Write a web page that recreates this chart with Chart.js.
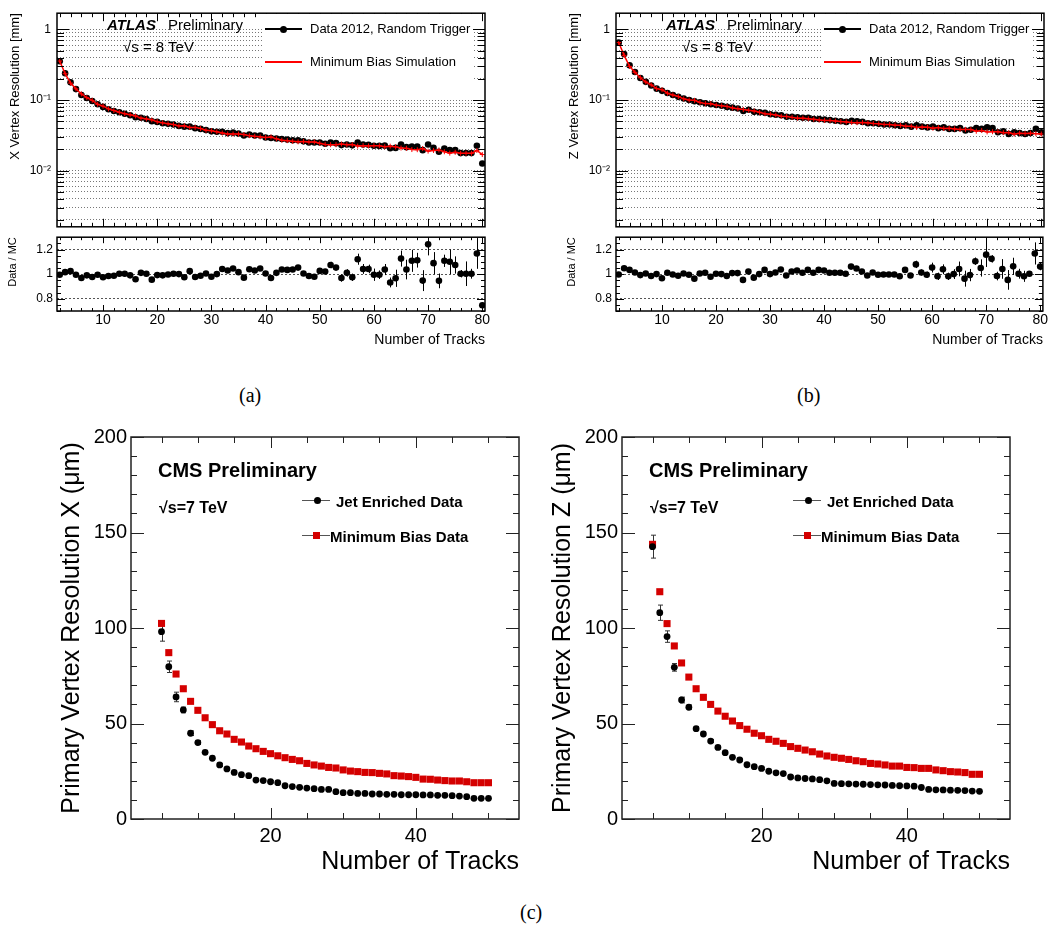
<!DOCTYPE html>
<html>
<head>
<meta charset="utf-8">
<script src="https://cdn.jsdelivr.net/npm/chart.js@4.4.0/dist/chart.umd.min.js"></script>
<style>
  html, body { margin: 0; padding: 0; background: #fff; overflow: hidden; }
  #page { position: relative; width: 1049px; height: 927px; font-family: "Liberation Sans", Arial, sans-serif; color: #000; }
  canvas { position: absolute; }
  .txt { position: absolute; white-space: nowrap; line-height: 1; }
  .box { position: absolute; background: #fff; }
  .ln { position: absolute; }
  .dot { position: absolute; border-radius: 50%; background: #000; }
  .sq { position: absolute; background: #d40000; }
  .cap { position: absolute; font-family: "Liberation Serif", "Times New Roman", serif; font-size: 20px; line-height: 1; }
</style>
</head>
<body>
<div id="page">
  <canvas id="xMain" width="500" height="240" style="left:0;top:0"></canvas>
  <canvas id="xRatio" width="500" height="130" style="left:0;top:226px"></canvas>
  <canvas id="zMain" width="490" height="240" style="left:559px;top:0"></canvas>
  <canvas id="zRatio" width="490" height="130" style="left:559px;top:226px"></canvas>
  <canvas id="cmsX" width="490" height="460" style="left:40px;top:420px"></canvas>
  <canvas id="cmsZ" width="490" height="460" style="left:531px;top:420px"></canvas>

  <!-- ATLAS (a) texts -->
  <div class="txt" style="left:107px;top:17px;font-size:15px;font-weight:bold;font-style:italic">ATLAS</div>
  <div class="txt" style="left:168px;top:17px;font-size:15px">Preliminary</div>
  <div class="txt" style="left:123px;top:39px;font-size:15px">√s = 8 TeV</div>
  <div class="box" style="left:262px;top:14px;width:210px;height:78px"></div>
  <div class="ln" style="left:265px;top:28px;width:37px;height:2px;background:#000"></div>
  <div class="dot" style="left:279.5px;top:25.5px;width:7px;height:7px"></div>
  <div class="txt" style="left:310px;top:22px;font-size:13px">Data 2012, Random Trigger</div>
  <div class="ln" style="left:265px;top:61px;width:37px;height:2px;background:#ff0000"></div>
  <div class="txt" style="left:310px;top:55px;font-size:13px">Minimum Bias Simulation</div>

  <!-- ATLAS (b) texts -->
  <div class="txt" style="left:666px;top:17px;font-size:15px;font-weight:bold;font-style:italic">ATLAS</div>
  <div class="txt" style="left:727px;top:17px;font-size:15px">Preliminary</div>
  <div class="txt" style="left:682px;top:39px;font-size:15px">√s = 8 TeV</div>
  <div class="box" style="left:821px;top:14px;width:210px;height:78px"></div>
  <div class="ln" style="left:824px;top:28px;width:37px;height:2px;background:#000"></div>
  <div class="dot" style="left:838.5px;top:25.5px;width:7px;height:7px"></div>
  <div class="txt" style="left:869px;top:22px;font-size:13px">Data 2012, Random Trigger</div>
  <div class="ln" style="left:824px;top:61px;width:37px;height:2px;background:#ff0000"></div>
  <div class="txt" style="left:869px;top:55px;font-size:13px">Minimum Bias Simulation</div>

  <!-- CMS X texts -->
  <div class="txt" style="left:158px;top:460px;font-size:20px;font-weight:bold">CMS Preliminary</div>
  <div class="txt" style="left:159px;top:500px;font-size:16px;font-weight:bold">√s=7 TeV</div>
  <div class="ln" style="left:302px;top:500px;width:28px;height:1px;background:#555"></div>
  <div class="dot" style="left:313.5px;top:497px;width:7px;height:7px"></div>
  <div class="txt" style="left:336px;top:494px;font-size:15px;font-weight:bold">Jet Enriched Data</div>
  <div class="ln" style="left:302px;top:535px;width:28px;height:1px;background:#555"></div>
  <div class="sq" style="left:313px;top:532px;width:7px;height:7px"></div>
  <div class="txt" style="left:330px;top:529px;font-size:15px;font-weight:bold">Minimum Bias Data</div>

  <!-- CMS Z texts -->
  <div class="txt" style="left:649px;top:460px;font-size:20px;font-weight:bold">CMS Preliminary</div>
  <div class="txt" style="left:650px;top:500px;font-size:16px;font-weight:bold">√s=7 TeV</div>
  <div class="ln" style="left:793px;top:500px;width:28px;height:1px;background:#555"></div>
  <div class="dot" style="left:804.5px;top:497px;width:7px;height:7px"></div>
  <div class="txt" style="left:827px;top:494px;font-size:15px;font-weight:bold">Jet Enriched Data</div>
  <div class="ln" style="left:793px;top:535px;width:28px;height:1px;background:#555"></div>
  <div class="sq" style="left:804px;top:532px;width:7px;height:7px"></div>
  <div class="txt" style="left:821px;top:529px;font-size:15px;font-weight:bold">Minimum Bias Data</div>

  <div class="cap" style="left:239px;top:385px">(a)</div>
  <div class="cap" style="left:797px;top:385px">(b)</div>
  <div class="cap" style="left:520px;top:902px">(c)</div>
</div>

<script>
// ATLAS: number of tracks 2..80
const tracks = [2,3,4,5,6,7,8,9,10,11,12,13,14,15,16,17,18,19,20,21,22,23,24,25,26,27,28,29,30,31,32,33,34,35,36,37,38,39,40,
  41,42,43,44,45,46,47,48,49,50,51,52,53,54,55,56,57,58,59,60,61,62,63,64,65,66,67,68,69,70,71,72,73,74,75,76,77,78,79,80];

// X vertex resolution [mm]
const xResData = [0.355,0.24,0.178,0.143,0.118,0.107,0.097,0.087,0.080,
  0.074,0.070,0.067,0.064,0.061,0.057,0.056,0.054,0.050,0.049,
  0.047,0.046,0.045,0.043,0.042,0.042,0.040,0.039,0.0375,0.036,
  0.0355,0.0355,0.034,0.0345,0.0335,0.0315,0.0325,0.0315,0.0315,0.0295,
  0.029,0.0285,0.028,0.0275,0.027,0.027,0.026,0.025,0.025,0.025,
  0.024,0.025,0.0245,0.023,0.0235,0.0228,0.025,0.0235,0.0233,0.0225,
  0.0224,0.0226,0.0207,0.021,0.0235,0.0215,0.022,0.022,0.0195,0.0235,
  0.021,0.0185,0.0205,0.0195,0.0195,0.0177,0.0177,0.0177,0.0225,0.0126];
const xResMC = [0.357,0.236,0.174,0.144,0.122,0.108,0.099,0.087,0.082,
  0.075,0.071,0.067,0.064,0.062,0.0595,0.0555,0.054,0.0524,0.0494,
  0.0475,0.0461,0.0449,0.043,0.0431,0.041,0.041,0.0395,0.0373,0.0368,
  0.0355,0.0341,0.033,0.033,0.033,0.0324,0.0313,0.0306,0.0301,0.0294,
  0.030,0.0282,0.027,0.0266,0.026,0.0256,0.0259,0.0254,0.0255,0.0244,
  0.0235,0.0233,0.0233,0.0238,0.0233,0.0234,0.0223,0.0226,0.0224,0.0226,
  0.0225,0.0218,0.0222,0.0217,0.0209,0.0207,0.0199,0.0198,0.0206,0.0189,
  0.0193,0.0196,0.0185,0.0177,0.0182,0.0176,0.0176,0.0176,0.0193,0.0169];
const xRatio = [0.995,1.016,1.024,0.995,0.968,0.99,0.976,0.995,0.974,
  0.984,0.987,1.003,1.003,0.99,0.958,1.01,1.003,0.955,0.992,
  0.99,0.997,1.003,1.0,0.974,1.024,0.976,0.987,1.005,0.979,
  1.0,1.042,1.029,1.045,1.016,0.971,1.039,1.029,1.045,1.005,
  0.968,1.01,1.037,1.034,1.037,1.053,1.005,0.984,0.979,1.026,
  1.021,1.074,1.053,0.968,1.01,0.974,1.121,1.042,1.042,0.995,
  0.995,1.037,0.932,0.966,1.126,1.037,1.108,1.113,0.947,1.242,
  1.089,0.945,1.108,1.1,1.074,1.003,1.003,1.003,1.168,0.747];
const xRatioErr = [0.01,0.01,0.01,0.01,0.01,0.01,0.01,0.01,0.01,
  0.01,0.01,0.01,0.01,0.01,0.01,0.01,0.01,0.01,0.01,
  0.012,0.012,0.012,0.012,0.012,0.012,0.012,0.012,0.012,0.012,
  0.012,0.012,0.012,0.012,0.012,0.012,0.012,0.012,0.012,0.012,
  0.015,0.015,0.015,0.015,0.015,0.015,0.015,0.015,0.015,0.02,
  0.02,0.026,0.02,0.03,0.03,0.03,0.045,0.04,0.035,0.05,
  0.035,0.045,0.04,0.07,0.065,0.08,0.09,0.06,0.085,0.09,
  0.09,0.06,0.05,0.1,0.07,0.03,0.1,0.04,0.125,0.02];

// Z vertex resolution [mm]
const zResData = [0.65,0.45,0.31,0.25,0.205,0.181,0.161,0.145,0.135,
  0.126,0.118,0.111,0.105,0.100,0.096,0.093,0.090,0.087,0.085,
  0.083,0.080,0.078,0.076,0.070,0.073,0.068,0.067,0.066,0.063,
  0.062,0.061,0.058,0.058,0.057,0.056,0.056,0.054,0.054,0.053,
  0.052,0.051,0.050,0.049,0.051,0.050,0.049,0.047,0.047,0.046,
  0.045,0.045,0.044,0.043,0.044,0.042,0.044,0.042,0.041,0.042,
  0.040,0.041,0.039,0.039,0.040,0.037,0.038,0.040,0.039,0.041,
  0.040,0.035,0.036,0.033,0.035,0.034,0.033,0.034,0.039,0.035];
const zResMC = [0.652,0.43,0.30,0.247,0.207,0.18,0.164,0.145,0.14,
  0.125,0.118,0.112,0.104,0.1,0.099,0.0925,0.089,0.0889,0.0847,
  0.083,0.0813,0.0774,0.0754,0.0735,0.0715,0.070,0.067,0.0638,0.063,
  0.0612,0.0588,0.0586,0.0568,0.0554,0.0554,0.0542,0.0534,0.0522,0.0515,
  0.0514,0.0504,0.0495,0.0489,0.0481,0.0478,0.048,0.0475,0.0464,0.0462,
  0.0451,0.0451,0.0441,0.0438,0.0426,0.0425,0.0408,0.0415,0.0412,0.0399,
  0.0407,0.0395,0.0397,0.039,0.0384,0.0384,0.0383,0.0362,0.0371,0.0354,
  0.0356,0.0356,0.0345,0.0346,0.0329,0.0339,0.0336,0.0339,0.0334,0.033];
const zRatio = [0.997,1.047,1.034,1.013,0.992,1.005,0.984,1.0,0.966,
  1.011,0.997,0.987,1.005,0.995,0.963,1.005,1.011,0.979,1.003,
  1.0,0.984,1.008,1.008,0.953,1.021,0.971,1.0,1.034,1.0,
  1.013,1.037,0.989,1.021,1.029,1.011,1.034,1.011,1.034,1.029,
  1.011,1.011,1.011,1.003,1.061,1.045,1.021,0.989,1.013,0.995,
  0.997,0.997,0.997,0.982,1.034,0.989,1.079,1.013,0.995,1.053,
  0.982,1.039,0.982,1.0,1.042,0.963,0.992,1.105,1.05,1.158,
  1.124,0.984,1.042,0.953,1.063,1.003,0.982,1.003,1.168,1.061];
const zRatioErr = [0.008,0.008,0.008,0.008,0.008,0.008,0.008,0.008,0.008,
  0.008,0.008,0.008,0.008,0.008,0.008,0.008,0.008,0.008,0.008,
  0.01,0.01,0.01,0.01,0.01,0.01,0.01,0.01,0.01,0.01,
  0.01,0.01,0.01,0.01,0.01,0.01,0.01,0.01,0.01,0.01,
  0.012,0.012,0.012,0.012,0.012,0.015,0.015,0.015,0.015,0.015,
  0.02,0.02,0.02,0.02,0.02,0.02,0.03,0.025,0.025,0.04,
  0.03,0.04,0.03,0.04,0.06,0.065,0.05,0.03,0.07,0.1,
  0.03,0.035,0.08,0.08,0.07,0.04,0.045,0.02,0.09,0.03];

// CMS: number of tracks 5..50, resolution in um
const cmsTracks = [5,6,7,8,9,10,11,12,13,14,15,16,17,18,19,20,21,22,23,24,25,26,27,28,29,30,
  31,32,33,34,35,36,37,38,39,40,41,42,43,44,45,46,47,48,49,50];
const cmsXMinBias = [102.4,87.1,75.9,68.2,61.6,56.9,53.0,49.4,46.2,44.5,41.7,40.3,38.2,36.8,35.4,34.2,
  33.1,32.1,31.2,30.5,29.1,28.3,27.7,27.0,26.7,25.7,25.1,24.8,24.4,24.3,23.9,23.6,22.7,22.5,22.2,21.8,
  20.9,20.8,20.4,20.1,19.9,19.9,19.5,19.0,19.0,19.0];
const cmsXJet = [98.1,79.7,63.9,57.1,44.9,40.0,34.9,31.8,28.3,26.2,24.4,23.2,22.7,20.4,20.1,19.5,
  19.0,17.4,17.0,16.6,16.2,15.9,15.5,15.5,14.3,13.8,13.8,13.4,13.4,13.1,13.1,12.9,12.9,12.7,12.7,12.7,
  12.6,12.6,12.4,12.4,12.2,12.0,11.7,10.8,10.8,10.8];
const cmsXJetErr = [5,3,2.5,1.5,1.2,1,0.9,0.8,0.8,0.7,0.7,0.6,0.6,0.6,0.6,0.6,0.5,0.5,0.5,0.5,0.5,0.5,0.5,0.5,
  0.5,0.5,0.5,0.5,0.5,0.5,0.5,0.5,0.5,0.5,0.5,0.5,0.5,0.5,0.5,0.5,0.5,0.5,0.5,0.5,0.5,0.5];
const cmsZMinBias = [143.8,119.0,102.3,90.6,81.7,74.3,68.2,63.7,60.0,56.5,53.8,51.3,48.9,47.0,44.9,43.6,
  41.7,40.7,39.6,37.9,37.0,36.1,35.2,34.0,33.0,32.3,31.8,31.2,30.5,30.0,29.1,28.8,28.3,27.7,27.7,27.0,
  26.9,26.5,26.5,25.7,25.3,24.8,24.6,24.3,23.4,23.4];
const cmsZJet = [142.6,108.0,95.5,79.4,62.3,58.5,47.3,44.5,40.8,37.5,34.7,32.3,30.9,28.4,27.4,26.5,
  25.0,24.2,23.8,22.0,21.5,21.2,21.0,20.6,20.0,18.6,18.5,18.4,18.3,18.2,18.0,17.9,17.8,17.6,17.4,17.3,
  17.2,16.5,15.5,15.3,15.2,15.1,15.0,14.9,14.6,14.5];
const cmsZJetErr = [6,4,3,2,1.5,1.2,1,0.9,0.8,0.8,0.7,0.7,0.6,0.6,0.6,0.6,0.6,0.6,0.6,0.6,0.6,0.6,0.6,0.6,
  0.6,0.6,0.6,0.6,0.6,0.6,0.6,0.6,0.6,0.6,0.6,0.6,0.6,0.6,0.6,0.6,0.6,0.6,0.6,0.6,0.6,0.6];

// tick labels
const atlasXTicks = [10,20,30,40,50,60,70,80];
const atlasLogTicks = [0.01, 0.1, 1];
const atlasLogLabels = ['10\u207B\u00B2', '10\u207B\u00B9', '1'];
const ratioTicks = [0.8, 1, 1.2];
const cmsXTicks = [20, 40];
const cmsYTicks = [0, 50, 100, 150, 200];

Chart.defaults.font.family = '"Liberation Sans", Arial, sans-serif';
Chart.defaults.color = '#000';
Chart.defaults.animation = false;

const pts = (xs, ys) => xs.map((x, i) => ({ x: x, y: ys[i] }));

function linTicks(from, to, step, majorStep, majLen, minLen) {
  const out = [];
  for (let k = 0; from + k * step <= to + 1e-9; k++) {
    const v = Math.round((from + k * step) * 1000) / 1000;
    const q = v / majorStep;
    out.push({ v: v, len: Math.abs(q - Math.round(q)) < 1e-6 ? majLen : minLen });
  }
  return out;
}

function logGrid(min, max) {
  const out = [];
  for (let e = -3; e <= 0; e++) {
    for (let m = 1; m <= 9; m++) {
      const v = parseFloat((m * Math.pow(10, e)).toPrecision(2));
      if (v >= min && v <= max) out.push(v);
    }
  }
  return out;
}

// draws the frame and the inside tick marks on all four sides
function framePlugin(xTicks, yTicks, borderWidth, color) {
  return {
    id: 'frame',
    afterDraw(chart) {
      const { ctx, chartArea: a } = chart;
      const xs = chart.scales.x, ys = chart.scales.y;
      ctx.save();
      ctx.strokeStyle = color;
      ctx.lineWidth = 1;
      ctx.beginPath();
      xTicks.forEach(t => {
        const px = Math.round(xs.getPixelForValue(t.v)) + 0.5;
        ctx.moveTo(px, a.bottom); ctx.lineTo(px, a.bottom - t.len);
        ctx.moveTo(px, a.top); ctx.lineTo(px, a.top + t.len);
      });
      yTicks.forEach(t => {
        const py = Math.round(ys.getPixelForValue(t.v)) + 0.5;
        ctx.moveTo(a.left, py); ctx.lineTo(a.left + t.len, py);
        ctx.moveTo(a.right, py); ctx.lineTo(a.right - t.len, py);
      });
      ctx.stroke();
      ctx.lineWidth = borderWidth;
      ctx.strokeRect(a.left, a.top, a.right - a.left, a.bottom - a.top);
      ctx.restore();
    }
  };
}

const errorBars = {
  id: 'errorBars',
  beforeDatasetsDraw(chart) {
    const { ctx, chartArea: a } = chart;
    const xs = chart.scales.x, ys = chart.scales.y;
    ctx.save();
    ctx.beginPath();
    ctx.rect(a.left, a.top, a.right - a.left, a.bottom - a.top);
    ctx.clip();
    chart.data.datasets.forEach(ds => {
      if (!ds.yErr) return;
      ctx.strokeStyle = ds.errColor || '#000';
      ctx.lineWidth = 1;
      ctx.beginPath();
      ds.data.forEach((p, i) => {
        const e = ds.yErr[i];
        if (!e) return;
        const px = Math.round(xs.getPixelForValue(p.x)) + 0.5;
        const y1 = ys.getPixelForValue(p.y - e);
        const y2 = ys.getPixelForValue(p.y + e);
        ctx.moveTo(px, y1); ctx.lineTo(px, y2);
        if (ds.errCap) {
          ctx.moveTo(px - ds.errCap, y1); ctx.lineTo(px + ds.errCap, y1);
          ctx.moveTo(px - ds.errCap, y2); ctx.lineTo(px + ds.errCap, y2);
        }
      });
      ctx.stroke();
    });
    ctx.restore();
  }
};

const logMin = 0.0016, logMax = 1.7;
const gridVals = logGrid(logMin, logMax);

function atlasMain(id, data, mc, yTitle, padRight) {
  const yFrame = gridVals.map(v => ({ v: v, len: atlasLogTicks.includes(v) ? 12 : 7 }));
  new Chart(document.getElementById(id), {
    type: 'scatter',
    data: {
      datasets: [
        { label: 'Minimum Bias Simulation', data: pts(tracks, mc), showLine: true, borderColor: '#ff0000', borderWidth: 1.5,
          pointStyle: 'cross', pointRadius: 2.5, pointBorderColor: '#ff0000', pointBorderWidth: 1, order: 0 },
        { label: 'Data 2012, Random Trigger', data: pts(tracks, data), pointRadius: 3.3, pointBackgroundColor: '#000',
          pointBorderColor: '#000', pointBorderWidth: 0, order: 1 }
      ]
    },
    options: {
      responsive: false,
      layout: { padding: { top: 8, right: padRight, bottom: 8, left: 0 } },
      plugins: { legend: { display: false }, tooltip: { enabled: false } },
      events: [],
      scales: {
        x: { type: 'linear', min: 1.5, max: 80.5, display: false },
        y: {
          type: 'logarithmic', min: logMin, max: logMax,
          afterFit: s => { s.width = 57; },
          afterBuildTicks: s => { s.ticks = gridVals.map(v => ({ value: v })); },
          ticks: {
            autoSkip: false, padding: 6, font: { size: 12 },
            callback: v => { const i = atlasLogTicks.indexOf(v); return i >= 0 ? atlasLogLabels[i] : ''; }
          },
          grid: { color: '#777', lineWidth: 1, drawTicks: false },
          border: { display: false, dash: [1, 2] },
          title: { display: true, text: yTitle, align: 'end', font: { size: 13 }, padding: { top: 8, bottom: 0 } }
        }
      }
    },
    plugins: [errorBars, framePlugin(linTicks(2, 80, 2, 10, 8, 4), yFrame, 1.5, '#000')]
  });
}

function atlasRatio(id, ratio, err, padRight) {
  new Chart(document.getElementById(id), {
    type: 'scatter',
    data: {
      datasets: [
        { label: 'Data / MC', data: pts(tracks, ratio), yErr: err, pointRadius: 3.3, pointBackgroundColor: '#000',
          pointBorderColor: '#000', pointBorderWidth: 0 }
      ]
    },
    options: {
      responsive: false,
      layout: { padding: { top: 10, right: padRight, bottom: 0, left: 0 } },
      plugins: { legend: { display: false }, tooltip: { enabled: false } },
      events: [],
      scales: {
        x: {
          type: 'linear', min: 1.5, max: 80.5,
          afterFit: s => { s.height = 45; },
          afterBuildTicks: s => { s.ticks = atlasXTicks.map(v => ({ value: v })); },
          ticks: { autoSkip: false, maxRotation: 0, padding: 1, font: { size: 14 } },
          grid: { display: false, drawTicks: false },
          border: { display: false },
          title: { display: true, text: 'Number of Tracks', align: 'end', font: { size: 14 }, padding: { top: 0, bottom: 7 } }
        },
        y: {
          type: 'linear', min: 0.7, max: 1.3,
          afterFit: s => { s.width = 57; },
          afterBuildTicks: s => { s.ticks = ratioTicks.map(v => ({ value: v })); },
          ticks: { autoSkip: false, padding: 4, font: { size: 12 }, callback: v => (v === 1 ? '1' : v.toFixed(1)) },
          grid: { color: '#555', lineWidth: 1, drawTicks: false },
          border: { display: false, dash: [2, 2] },
          title: { display: true, text: 'Data / MC', align: 'end', font: { size: 11 }, padding: { top: 6, bottom: 0 } }
        }
      }
    },
    plugins: [errorBars, framePlugin(linTicks(2, 80, 2, 10, 6, 3), linTicks(0.7, 1.3, 0.05, 0.2, 8, 4), 1.5, '#000')]
  });
}

function cmsChart(id, jet, jetErr, minBias, yTitle) {
  new Chart(document.getElementById(id), {
    type: 'scatter',
    data: {
      datasets: [
        { label: 'Jet Enriched Data', data: pts(cmsTracks, jet), yErr: jetErr, errCap: 2.5, errColor: '#333',
          pointRadius: 3.4, pointBackgroundColor: '#000', pointBorderColor: '#000', pointBorderWidth: 0, order: 0 },
        { label: 'Minimum Bias Data', data: pts(cmsTracks, minBias), pointStyle: 'rect', pointRadius: 5,
          pointBackgroundColor: '#d40000', pointBorderColor: '#d40000', pointBorderWidth: 0, order: 1 }
      ]
    },
    options: {
      responsive: false,
      layout: { padding: { top: 17, right: 11, bottom: 0, left: 0 } },
      plugins: { legend: { display: false }, tooltip: { enabled: false } },
      events: [],
      scales: {
        x: {
          type: 'linear', min: 0.8, max: 54.2,
          afterFit: s => { s.height = 61; },
          afterBuildTicks: s => { s.ticks = cmsXTicks.map(v => ({ value: v })); },
          ticks: { autoSkip: false, maxRotation: 0, padding: 5, font: { size: 20 } },
          grid: { display: false, drawTicks: false },
          border: { display: false },
          title: { display: true, text: 'Number of Tracks', align: 'end', font: { size: 25 }, padding: { top: 0, bottom: 3 } }
        },
        y: {
          type: 'linear', min: 0, max: 200,
          afterFit: s => { s.width = 91; },
          afterBuildTicks: s => { s.ticks = cmsYTicks.map(v => ({ value: v })); },
          ticks: { autoSkip: false, padding: 4, font: { size: 20 } },
          grid: { display: false, drawTicks: false },
          border: { display: false },
          title: { display: true, text: yTitle, align: 'center', font: { size: 25 }, padding: { top: 17, bottom: 0 } }
        }
      }
    },
    plugins: [errorBars, framePlugin(linTicks(5, 50, 5, 20, 11, 6), linTicks(0, 200, 10, 50, 13, 6), 1.5, '#222')]
  });
}

atlasMain('xMain', xResData, xResMC, 'X Vertex Resolution [mm]', 15);
atlasRatio('xRatio', xRatio, xRatioErr, 15);
atlasMain('zMain', zResData, zResMC, 'Z Vertex Resolution [mm]', 5);
atlasRatio('zRatio', zRatio, zRatioErr, 5);
cmsChart('cmsX', cmsXJet, cmsXJetErr, cmsXMinBias, 'Primary Vertex Resolution X (\u03BCm)');
cmsChart('cmsZ', cmsZJet, cmsZJetErr, cmsZMinBias, 'Primary Vertex Resolution Z (\u03BCm)');
</script>
</body>
</html>
